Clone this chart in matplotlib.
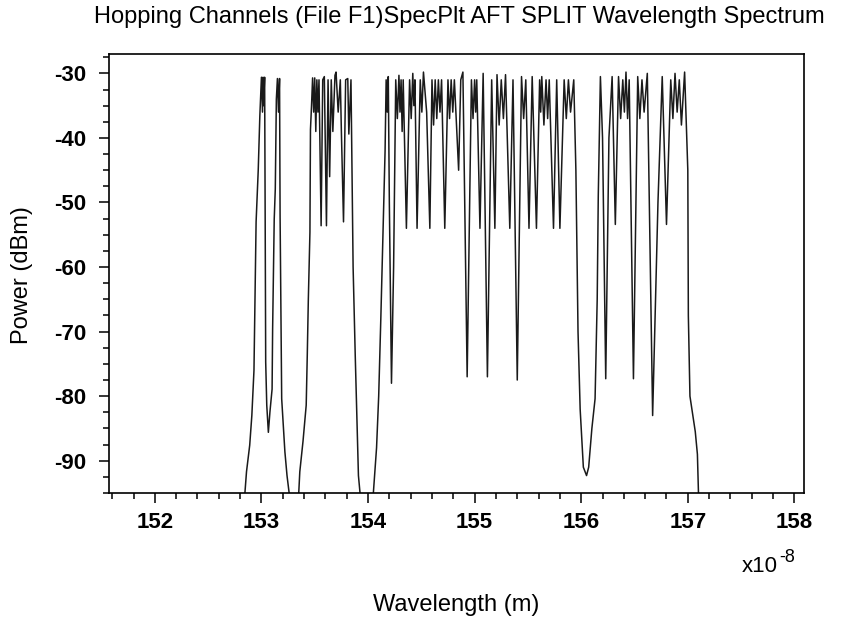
import numpy as np
import matplotlib
matplotlib.use("Agg")
from matplotlib import pyplot as plt
from matplotlib.ticker import MultipleLocator, FixedLocator

plt.rcParams['font.family'] = ['Liberation Sans', 'DejaVu Sans']
plt.rcParams['axes.unicode_minus'] = False

# trace breakpoints: (wavelength in 1e-8 m, power in dBm)
# channel group 1 (two channels)
group1 = [(152.80, -100), (152.845, -95), (152.86, -91.7), (152.89, -87.6), (152.91, -83),
          (152.93, -76), (152.95, -53), (152.97, -45), (152.985, -36.6), (153.00, -30.6),
          (153.01, -36), (153.015, -30.6), (153.02, -35), (153.03, -30.6), (153.035, -52),
          (153.04, -74.7), (153.05, -81.4), (153.065, -85.6), (153.08, -82.4), (153.10, -78.9),
          (153.105, -69.6), (153.12, -52.6), (153.13, -47.9), (153.14, -34), (153.15, -30.8),
          (153.16, -36), (153.17, -30.8), (153.175, -52), (153.19, -80.4), (153.22, -88.6),
          (153.24, -92.3), (153.26, -95), (153.27, -100)]

# channel group 2
group2 = [(153.33, -100), (153.35, -95), (153.36, -91.7), (153.39, -87), (153.42, -81.4),
          (153.43, -73.7), (153.44, -65), (153.455, -54.6), (153.46, -38.7), (153.47, -35),
          (153.48, -30.7), (153.49, -36), (153.50, -30.7), (153.51, -39), (153.52, -31),
          (153.53, -36), (153.54, -31), (153.56, -53.6), (153.575, -31), (153.59, -30.5),
          (153.61, -53.6), (153.625, -31), (153.64, -46), (153.655, -31), (153.67, -39),
          (153.69, -30.3), (153.70, -29.8), (153.72, -36), (153.74, -31), (153.75, -39),
          (153.77, -53), (153.79, -31), (153.81, -30.8), (153.82, -39.4), (153.84, -31),
          (153.86, -60), (153.88, -73.7), (153.91, -92.3), (153.925, -95), (153.935, -100)]

# channel group 3
group3 = [(154.03, -100), (154.05, -95), (154.08, -88), (154.10, -80), (154.12, -68),
          (154.14, -55), (154.16, -42), (154.17, -31), (154.18, -36), (154.19, -30.5),
          (154.20, -50), (154.22, -78), (154.24, -60), (154.26, -31), (154.275, -37),
          (154.29, -30.3), (154.30, -36), (154.31, -31), (154.32, -39), (154.33, -31),
          (154.36, -54), (154.39, -31), (154.405, -37), (154.42, -30), (154.43, -35),
          (154.44, -31), (154.46, -54), (154.49, -31), (154.505, -36), (154.52, -29.8),
          (154.55, -36), (154.58, -54), (154.60, -31), (154.615, -38), (154.63, -31),
          (154.645, -37), (154.66, -31), (154.675, -36), (154.69, -31), (154.72, -54),
          (154.75, -31), (154.765, -37), (154.78, -31), (154.795, -36), (154.81, -31),
          (154.85, -45), (154.87, -31), (154.89, -29.8), (154.93, -77), (154.97, -31),
          (154.985, -37), (155.00, -31), (155.01, -36), (155.02, -31), (155.05, -54),
          (155.08, -30), (155.12, -77), (155.16, -31), (155.19, -54), (155.21, -30.2),
          (155.23, -38), (155.25, -31), (155.27, -37), (155.29, -30.2), (155.33, -54),
          (155.36, -31), (155.40, -77.5), (155.44, -30.5), (155.46, -37), (155.48, -31),
          (155.51, -54), (155.54, -30.5), (155.58, -54), (155.61, -31), (155.62, -36),
          (155.63, -30.5), (155.65, -38), (155.67, -31), (155.685, -37), (155.70, -31),
          (155.74, -54), (155.77, -31), (155.80, -54), (155.84, -31), (155.86, -37),
          (155.88, -31), (155.90, -36), (155.93, -31), (155.95, -45), (155.97, -70),
          (155.99, -82), (156.02, -91), (156.05, -92.3), (156.07, -91), (156.10, -85),
          (156.13, -80.4), (156.15, -65), (156.16, -49), (156.18, -30.5), (156.20, -40),
          (156.23, -77.3), (156.26, -40), (156.29, -30.5), (156.32, -53.4), (156.35, -30.5),
          (156.37, -37), (156.39, -31), (156.405, -36), (156.42, -29.8), (156.435, -37),
          (156.45, -31), (156.49, -77.3), (156.53, -30.5), (156.55, -37), (156.57, -31),
          (156.59, -36), (156.62, -30), (156.67, -83), (156.72, -50), (156.76, -30.5),
          (156.80, -53.4), (156.84, -31), (156.86, -37), (156.88, -30), (156.90, -36),
          (156.92, -31), (156.94, -38), (156.97, -29.8), (157.00, -45), (157.005, -67.5),
          (157.02, -80), (157.07, -85.5), (157.09, -89), (157.10, -95), (157.11, -100)]

x_ticks = [152, 153, 154, 155, 156, 157, 158]
y_ticks = [-90, -80, -70, -60, -50, -40, -30]

fig = plt.figure(figsize=(8.56, 6.24), dpi=100)
ax = fig.add_axes([109/856, 1-493/624, (804-109)/856, (493-54)/624])

for grp in [group1, group2, group3]:
    wl, db = zip(*grp)
    ax.plot(wl, db, color='#1a1a1a', lw=1.1)

ax.set_xlim(151.57, 158.09)
ax.set_ylim(-95, -27)
ax.xaxis.set_major_locator(FixedLocator(x_ticks))
ax.xaxis.set_minor_locator(MultipleLocator(0.2))
ax.yaxis.set_major_locator(FixedLocator(y_ticks))
ax.yaxis.set_minor_locator(MultipleLocator(2.5))
ax.set_xticklabels([str(t) for t in x_ticks], fontweight='bold')
ax.set_yticklabels([str(t) for t in y_ticks], fontweight='bold')
ax.tick_params(which='major', direction='out', length=7.5, width=1.1, labelsize=16)
ax.tick_params(axis='y', which='major', pad=9)
ax.tick_params(axis='x', which='major', pad=6)
ax.tick_params(which='minor', direction='out', length=4, width=1.1)
for s in ax.spines.values():
    s.set_linewidth(1.2)

fig.text(0.537, 1-17/624, 'Hopping Channels (File F1)SpecPlt AFT SPLIT Wavelength Spectrum',
         ha='center', va='center', fontsize=17)
fig.text(456/856, 1-605/624, 'Wavelength (m)', ha='center', va='center', fontsize=17)
fig.text(22/856, 1-275/624, 'Power (dBm)', ha='center', va='center', rotation=90, fontsize=17)
fig.text(778/856, 1-567/624, 'x10', ha='right', va='center', fontsize=16)
fig.text(779/856, 1-558/624, '-8', ha='left', va='center', fontsize=13)

fig.savefig('out.png', dpi=100)
